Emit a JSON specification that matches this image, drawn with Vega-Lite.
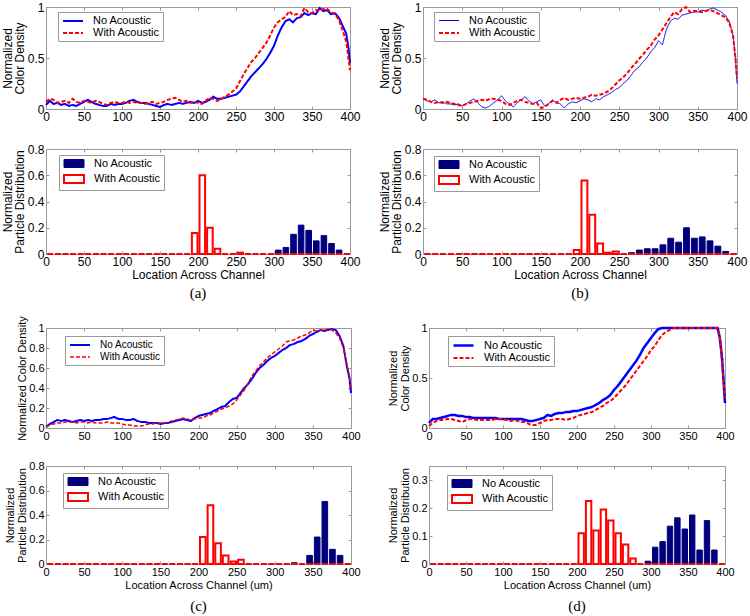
{
"$schema": "https://vega.github.io/schema/vega-lite/v6.json",
"padding": {"left": 0, "top": 0, "right": 2, "bottom": 0},
"spacing": 13,
"resolve": {"scale": {"stroke": "independent", "strokeDash": "independent", "fill": "independent", "strokeWidth": "independent"}, "legend": {"stroke": "independent", "strokeDash": "independent", "fill": "independent"}},
"datasets": {
"lines": [
{"p":"a","x":0,"No Acoustic":0.04,"With Acoustic":0.07},{"p":"a","x":5,"No Acoustic":0.08,"With Acoustic":0.10},{"p":"a","x":10,"No Acoustic":0.05,"With Acoustic":0.09},{"p":"a","x":15,"No Acoustic":0.06,"With Acoustic":0.06},{"p":"a","x":20,"No Acoustic":0.04,"With Acoustic":0.07},{"p":"a","x":25,"No Acoustic":0.05,"With Acoustic":0.08},{"p":"a","x":30,"No Acoustic":0.03,"With Acoustic":0.06},{"p":"a","x":35,"No Acoustic":0.04,"With Acoustic":0.10},{"p":"a","x":40,"No Acoustic":0.03,"With Acoustic":0.07},{"p":"a","x":45,"No Acoustic":0.05,"With Acoustic":0.06},{"p":"a","x":50,"No Acoustic":0.07,"With Acoustic":0.08},{"p":"a","x":55,"No Acoustic":0.09,"With Acoustic":0.07},{"p":"a","x":60,"No Acoustic":0.07,"With Acoustic":0.06},{"p":"a","x":65,"No Acoustic":0.05,"With Acoustic":0.08},{"p":"a","x":70,"No Acoustic":0.04,"With Acoustic":0.07},{"p":"a","x":75,"No Acoustic":0.03,"With Acoustic":0.05},{"p":"a","x":80,"No Acoustic":0.03,"With Acoustic":0.04},{"p":"a","x":85,"No Acoustic":0.05,"With Acoustic":0.06},{"p":"a","x":90,"No Acoustic":0.04,"With Acoustic":0.07},{"p":"a","x":95,"No Acoustic":0.05,"With Acoustic":0.06},{"p":"a","x":100,"No Acoustic":0.05,"With Acoustic":0.06},{"p":"a","x":105,"No Acoustic":0.06,"With Acoustic":0.07},{"p":"a","x":110,"No Acoustic":0.08,"With Acoustic":0.06},{"p":"a","x":115,"No Acoustic":0.09,"With Acoustic":0.07},{"p":"a","x":120,"No Acoustic":0.07,"With Acoustic":0.06},{"p":"a","x":125,"No Acoustic":0.06,"With Acoustic":0.06},{"p":"a","x":130,"No Acoustic":0.06,"With Acoustic":0.05},{"p":"a","x":135,"No Acoustic":0.05,"With Acoustic":0.06},{"p":"a","x":140,"No Acoustic":0.04,"With Acoustic":0.07},{"p":"a","x":145,"No Acoustic":0.03,"With Acoustic":0.05},{"p":"a","x":150,"No Acoustic":0.02,"With Acoustic":0.06},{"p":"a","x":155,"No Acoustic":0.04,"With Acoustic":0.07},{"p":"a","x":160,"No Acoustic":0.05,"With Acoustic":0.09},{"p":"a","x":165,"No Acoustic":0.04,"With Acoustic":0.10},{"p":"a","x":170,"No Acoustic":0.05,"With Acoustic":0.11},{"p":"a","x":175,"No Acoustic":0.06,"With Acoustic":0.09},{"p":"a","x":180,"No Acoustic":0.05,"With Acoustic":0.07},{"p":"a","x":185,"No Acoustic":0.06,"With Acoustic":0.08},{"p":"a","x":190,"No Acoustic":0.07,"With Acoustic":0.06},{"p":"a","x":195,"No Acoustic":0.06,"With Acoustic":0.07},{"p":"a","x":200,"No Acoustic":0.08,"With Acoustic":0.06},{"p":"a","x":205,"No Acoustic":0.06,"With Acoustic":0.05},{"p":"a","x":210,"No Acoustic":0.07,"With Acoustic":0.08},{"p":"a","x":215,"No Acoustic":0.09,"With Acoustic":0.11},{"p":"a","x":220,"No Acoustic":0.12,"With Acoustic":0.10},{"p":"a","x":225,"No Acoustic":0.10,"With Acoustic":0.08},{"p":"a","x":230,"No Acoustic":0.10,"With Acoustic":0.09},{"p":"a","x":235,"No Acoustic":0.11,"With Acoustic":0.12},{"p":"a","x":240,"No Acoustic":0.12,"With Acoustic":0.14},{"p":"a","x":245,"No Acoustic":0.13,"With Acoustic":0.17},{"p":"a","x":250,"No Acoustic":0.14,"With Acoustic":0.20},{"p":"a","x":255,"No Acoustic":0.17,"With Acoustic":0.27},{"p":"a","x":260,"No Acoustic":0.22,"With Acoustic":0.34},{"p":"a","x":265,"No Acoustic":0.27,"With Acoustic":0.40},{"p":"a","x":270,"No Acoustic":0.32,"With Acoustic":0.46},{"p":"a","x":275,"No Acoustic":0.36,"With Acoustic":0.50},{"p":"a","x":280,"No Acoustic":0.40,"With Acoustic":0.55},{"p":"a","x":285,"No Acoustic":0.44,"With Acoustic":0.60},{"p":"a","x":290,"No Acoustic":0.49,"With Acoustic":0.65},{"p":"a","x":295,"No Acoustic":0.55,"With Acoustic":0.72},{"p":"a","x":300,"No Acoustic":0.62,"With Acoustic":0.80},{"p":"a","x":305,"No Acoustic":0.72,"With Acoustic":0.85},{"p":"a","x":310,"No Acoustic":0.80,"With Acoustic":0.88},{"p":"a","x":315,"No Acoustic":0.86,"With Acoustic":0.90},{"p":"a","x":320,"No Acoustic":0.88,"With Acoustic":0.96},{"p":"a","x":325,"No Acoustic":0.85,"With Acoustic":0.92},{"p":"a","x":330,"No Acoustic":0.89,"With Acoustic":0.93},{"p":"a","x":335,"No Acoustic":0.90,"With Acoustic":0.91},{"p":"a","x":340,"No Acoustic":0.94,"With Acoustic":0.99},{"p":"a","x":345,"No Acoustic":0.92,"With Acoustic":0.95},{"p":"a","x":350,"No Acoustic":0.94,"With Acoustic":0.94},{"p":"a","x":355,"No Acoustic":0.93,"With Acoustic":0.97},{"p":"a","x":360,"No Acoustic":0.99,"With Acoustic":0.96},{"p":"a","x":365,"No Acoustic":0.96,"With Acoustic":0.98},{"p":"a","x":370,"No Acoustic":0.97,"With Acoustic":0.98},{"p":"a","x":375,"No Acoustic":0.93,"With Acoustic":0.95},{"p":"a","x":380,"No Acoustic":0.94,"With Acoustic":0.93},{"p":"a","x":385,"No Acoustic":0.90,"With Acoustic":0.88},{"p":"a","x":390,"No Acoustic":0.82,"With Acoustic":0.78},{"p":"a","x":395,"No Acoustic":0.74,"With Acoustic":0.66},{"p":"a","x":398,"No Acoustic":0.60,"With Acoustic":0.50},{"p":"a","x":400,"No Acoustic":0.45,"With Acoustic":0.38},
{"p":"b","x":0,"No Acoustic":0.10,"With Acoustic":0.10},{"p":"b","x":5,"No Acoustic":0.08,"With Acoustic":0.09},{"p":"b","x":10,"No Acoustic":0.07,"With Acoustic":0.07},{"p":"b","x":15,"No Acoustic":0.09,"With Acoustic":0.06},{"p":"b","x":20,"No Acoustic":0.06,"With Acoustic":0.07},{"p":"b","x":25,"No Acoustic":0.07,"With Acoustic":0.06},{"p":"b","x":30,"No Acoustic":0.05,"With Acoustic":0.07},{"p":"b","x":35,"No Acoustic":0.05,"With Acoustic":0.06},{"p":"b","x":40,"No Acoustic":0.04,"With Acoustic":0.05},{"p":"b","x":45,"No Acoustic":0.05,"With Acoustic":0.04},{"p":"b","x":50,"No Acoustic":0.03,"With Acoustic":0.03},{"p":"b","x":55,"No Acoustic":0.05,"With Acoustic":0.05},{"p":"b","x":60,"No Acoustic":0.08,"With Acoustic":0.06},{"p":"b","x":65,"No Acoustic":0.10,"With Acoustic":0.07},{"p":"b","x":70,"No Acoustic":0.06,"With Acoustic":0.08},{"p":"b","x":75,"No Acoustic":0.02,"With Acoustic":0.09},{"p":"b","x":80,"No Acoustic":0.01,"With Acoustic":0.08},{"p":"b","x":85,"No Acoustic":0.03,"With Acoustic":0.10},{"p":"b","x":90,"No Acoustic":0.06,"With Acoustic":0.10},{"p":"b","x":95,"No Acoustic":0.09,"With Acoustic":0.09},{"p":"b","x":100,"No Acoustic":0.13,"With Acoustic":0.08},{"p":"b","x":105,"No Acoustic":0.08,"With Acoustic":0.05},{"p":"b","x":110,"No Acoustic":0.05,"With Acoustic":0.04},{"p":"b","x":115,"No Acoustic":0.02,"With Acoustic":0.06},{"p":"b","x":120,"No Acoustic":0.06,"With Acoustic":0.08},{"p":"b","x":125,"No Acoustic":0.09,"With Acoustic":0.09},{"p":"b","x":130,"No Acoustic":0.12,"With Acoustic":0.07},{"p":"b","x":135,"No Acoustic":0.08,"With Acoustic":0.06},{"p":"b","x":140,"No Acoustic":0.05,"With Acoustic":0.05},{"p":"b","x":145,"No Acoustic":0.07,"With Acoustic":0.06},{"p":"b","x":150,"No Acoustic":0.09,"With Acoustic":0.01},{"p":"b","x":155,"No Acoustic":0.03,"With Acoustic":0.02},{"p":"b","x":160,"No Acoustic":0.05,"With Acoustic":0.05},{"p":"b","x":165,"No Acoustic":0.09,"With Acoustic":0.08},{"p":"b","x":170,"No Acoustic":0.06,"With Acoustic":0.06},{"p":"b","x":175,"No Acoustic":0.05,"With Acoustic":0.09},{"p":"b","x":180,"No Acoustic":0.01,"With Acoustic":0.11},{"p":"b","x":185,"No Acoustic":0.05,"With Acoustic":0.09},{"p":"b","x":190,"No Acoustic":0.07,"With Acoustic":0.10},{"p":"b","x":195,"No Acoustic":0.06,"With Acoustic":0.11},{"p":"b","x":200,"No Acoustic":0.08,"With Acoustic":0.10},{"p":"b","x":205,"No Acoustic":0.10,"With Acoustic":0.11},{"p":"b","x":210,"No Acoustic":0.09,"With Acoustic":0.12},{"p":"b","x":215,"No Acoustic":0.07,"With Acoustic":0.14},{"p":"b","x":220,"No Acoustic":0.10,"With Acoustic":0.13},{"p":"b","x":225,"No Acoustic":0.09,"With Acoustic":0.14},{"p":"b","x":230,"No Acoustic":0.12,"With Acoustic":0.15},{"p":"b","x":235,"No Acoustic":0.14,"With Acoustic":0.17},{"p":"b","x":240,"No Acoustic":0.16,"With Acoustic":0.20},{"p":"b","x":245,"No Acoustic":0.19,"With Acoustic":0.24},{"p":"b","x":250,"No Acoustic":0.21,"With Acoustic":0.28},{"p":"b","x":255,"No Acoustic":0.25,"With Acoustic":0.31},{"p":"b","x":260,"No Acoustic":0.28,"With Acoustic":0.35},{"p":"b","x":265,"No Acoustic":0.33,"With Acoustic":0.40},{"p":"b","x":270,"No Acoustic":0.38,"With Acoustic":0.44},{"p":"b","x":275,"No Acoustic":0.41,"With Acoustic":0.49},{"p":"b","x":280,"No Acoustic":0.46,"With Acoustic":0.53},{"p":"b","x":285,"No Acoustic":0.50,"With Acoustic":0.58},{"p":"b","x":290,"No Acoustic":0.56,"With Acoustic":0.62},{"p":"b","x":295,"No Acoustic":0.60,"With Acoustic":0.68},{"p":"b","x":300,"No Acoustic":0.67,"With Acoustic":0.72},{"p":"b","x":305,"No Acoustic":0.63,"With Acoustic":0.78},{"p":"b","x":310,"No Acoustic":0.78,"With Acoustic":0.84},{"p":"b","x":315,"No Acoustic":0.86,"With Acoustic":0.90},{"p":"b","x":320,"No Acoustic":0.89,"With Acoustic":0.95},{"p":"b","x":325,"No Acoustic":0.88,"With Acoustic":0.93},{"p":"b","x":330,"No Acoustic":0.92,"With Acoustic":0.98},{"p":"b","x":335,"No Acoustic":0.93,"With Acoustic":1.0},{"p":"b","x":340,"No Acoustic":0.94,"With Acoustic":0.95},{"p":"b","x":345,"No Acoustic":0.95,"With Acoustic":0.96},{"p":"b","x":350,"No Acoustic":0.95,"With Acoustic":0.96},{"p":"b","x":355,"No Acoustic":0.97,"With Acoustic":0.95},{"p":"b","x":360,"No Acoustic":0.96,"With Acoustic":0.96},{"p":"b","x":365,"No Acoustic":0.98,"With Acoustic":0.97},{"p":"b","x":370,"No Acoustic":0.99,"With Acoustic":0.96},{"p":"b","x":375,"No Acoustic":0.97,"With Acoustic":0.94},{"p":"b","x":380,"No Acoustic":0.95,"With Acoustic":0.92},{"p":"b","x":385,"No Acoustic":0.92,"With Acoustic":0.90},{"p":"b","x":390,"No Acoustic":0.86,"With Acoustic":0.85},{"p":"b","x":395,"No Acoustic":0.72,"With Acoustic":0.72},{"p":"b","x":398,"No Acoustic":0.50,"With Acoustic":0.50},{"p":"b","x":400,"No Acoustic":0.25,"With Acoustic":0.30},
{"p":"c","x":0,"No Acoustic":0.01,"With Acoustic":0.01},{"p":"c","x":5,"No Acoustic":0.04,"With Acoustic":0.03},{"p":"c","x":10,"No Acoustic":0.06,"With Acoustic":0.04},{"p":"c","x":15,"No Acoustic":0.08,"With Acoustic":0.05},{"p":"c","x":20,"No Acoustic":0.07,"With Acoustic":0.05},{"p":"c","x":25,"No Acoustic":0.08,"With Acoustic":0.06},{"p":"c","x":30,"No Acoustic":0.07,"With Acoustic":0.06},{"p":"c","x":35,"No Acoustic":0.06,"With Acoustic":0.06},{"p":"c","x":40,"No Acoustic":0.07,"With Acoustic":0.05},{"p":"c","x":45,"No Acoustic":0.08,"With Acoustic":0.06},{"p":"c","x":50,"No Acoustic":0.07,"With Acoustic":0.06},{"p":"c","x":55,"No Acoustic":0.08,"With Acoustic":0.05},{"p":"c","x":60,"No Acoustic":0.07,"With Acoustic":0.06},{"p":"c","x":65,"No Acoustic":0.08,"With Acoustic":0.05},{"p":"c","x":70,"No Acoustic":0.08,"With Acoustic":0.05},{"p":"c","x":75,"No Acoustic":0.09,"With Acoustic":0.05},{"p":"c","x":80,"No Acoustic":0.09,"With Acoustic":0.06},{"p":"c","x":85,"No Acoustic":0.10,"With Acoustic":0.05},{"p":"c","x":90,"No Acoustic":0.11,"With Acoustic":0.05},{"p":"c","x":95,"No Acoustic":0.09,"With Acoustic":0.05},{"p":"c","x":100,"No Acoustic":0.09,"With Acoustic":0.04},{"p":"c","x":105,"No Acoustic":0.08,"With Acoustic":0.03},{"p":"c","x":110,"No Acoustic":0.08,"With Acoustic":0.03},{"p":"c","x":115,"No Acoustic":0.09,"With Acoustic":0.02},{"p":"c","x":120,"No Acoustic":0.07,"With Acoustic":0.02},{"p":"c","x":125,"No Acoustic":0.06,"With Acoustic":0.02},{"p":"c","x":130,"No Acoustic":0.06,"With Acoustic":0.03},{"p":"c","x":135,"No Acoustic":0.05,"With Acoustic":0.04},{"p":"c","x":140,"No Acoustic":0.05,"With Acoustic":0.04},{"p":"c","x":145,"No Acoustic":0.05,"With Acoustic":0.05},{"p":"c","x":150,"No Acoustic":0.04,"With Acoustic":0.05},{"p":"c","x":155,"No Acoustic":0.05,"With Acoustic":0.05},{"p":"c","x":160,"No Acoustic":0.05,"With Acoustic":0.06},{"p":"c","x":165,"No Acoustic":0.06,"With Acoustic":0.07},{"p":"c","x":170,"No Acoustic":0.07,"With Acoustic":0.08},{"p":"c","x":175,"No Acoustic":0.08,"With Acoustic":0.09},{"p":"c","x":180,"No Acoustic":0.09,"With Acoustic":0.10},{"p":"c","x":185,"No Acoustic":0.08,"With Acoustic":0.09},{"p":"c","x":190,"No Acoustic":0.07,"With Acoustic":0.08},{"p":"c","x":195,"No Acoustic":0.10,"With Acoustic":0.09},{"p":"c","x":200,"No Acoustic":0.12,"With Acoustic":0.10},{"p":"c","x":205,"No Acoustic":0.13,"With Acoustic":0.10},{"p":"c","x":210,"No Acoustic":0.14,"With Acoustic":0.12},{"p":"c","x":215,"No Acoustic":0.15,"With Acoustic":0.13},{"p":"c","x":220,"No Acoustic":0.17,"With Acoustic":0.15},{"p":"c","x":225,"No Acoustic":0.19,"With Acoustic":0.17},{"p":"c","x":230,"No Acoustic":0.21,"With Acoustic":0.19},{"p":"c","x":235,"No Acoustic":0.22,"With Acoustic":0.20},{"p":"c","x":240,"No Acoustic":0.26,"With Acoustic":0.22},{"p":"c","x":245,"No Acoustic":0.29,"With Acoustic":0.24},{"p":"c","x":250,"No Acoustic":0.30,"With Acoustic":0.28},{"p":"c","x":255,"No Acoustic":0.35,"With Acoustic":0.33},{"p":"c","x":260,"No Acoustic":0.40,"With Acoustic":0.38},{"p":"c","x":265,"No Acoustic":0.44,"With Acoustic":0.45},{"p":"c","x":270,"No Acoustic":0.49,"With Acoustic":0.52},{"p":"c","x":275,"No Acoustic":0.55,"With Acoustic":0.57},{"p":"c","x":280,"No Acoustic":0.60,"With Acoustic":0.62},{"p":"c","x":285,"No Acoustic":0.63,"With Acoustic":0.66},{"p":"c","x":290,"No Acoustic":0.67,"With Acoustic":0.70},{"p":"c","x":295,"No Acoustic":0.70,"With Acoustic":0.73},{"p":"c","x":300,"No Acoustic":0.72,"With Acoustic":0.76},{"p":"c","x":305,"No Acoustic":0.75,"With Acoustic":0.79},{"p":"c","x":310,"No Acoustic":0.78,"With Acoustic":0.82},{"p":"c","x":315,"No Acoustic":0.80,"With Acoustic":0.86},{"p":"c","x":320,"No Acoustic":0.83,"With Acoustic":0.87},{"p":"c","x":325,"No Acoustic":0.84,"With Acoustic":0.88},{"p":"c","x":330,"No Acoustic":0.86,"With Acoustic":0.90},{"p":"c","x":335,"No Acoustic":0.87,"With Acoustic":0.92},{"p":"c","x":340,"No Acoustic":0.89,"With Acoustic":0.93},{"p":"c","x":345,"No Acoustic":0.92,"With Acoustic":0.95},{"p":"c","x":350,"No Acoustic":0.94,"With Acoustic":0.98},{"p":"c","x":355,"No Acoustic":0.96,"With Acoustic":0.97},{"p":"c","x":360,"No Acoustic":0.98,"With Acoustic":0.98},{"p":"c","x":365,"No Acoustic":0.97,"With Acoustic":0.98},{"p":"c","x":370,"No Acoustic":0.98,"With Acoustic":0.99},{"p":"c","x":375,"No Acoustic":0.99,"With Acoustic":0.98},{"p":"c","x":380,"No Acoustic":0.98,"With Acoustic":0.95},{"p":"c","x":385,"No Acoustic":0.92,"With Acoustic":0.90},{"p":"c","x":390,"No Acoustic":0.82,"With Acoustic":0.80},{"p":"c","x":395,"No Acoustic":0.60,"With Acoustic":0.62},{"p":"c","x":398,"No Acoustic":0.50,"With Acoustic":0.52},{"p":"c","x":400,"No Acoustic":0.35,"With Acoustic":0.40},
{"p":"d","x":0,"No Acoustic":0.05,"With Acoustic":0.02},{"p":"d","x":5,"No Acoustic":0.09,"With Acoustic":0.05},{"p":"d","x":10,"No Acoustic":0.09,"With Acoustic":0.07},{"p":"d","x":15,"No Acoustic":0.10,"With Acoustic":0.08},{"p":"d","x":20,"No Acoustic":0.11,"With Acoustic":0.08},{"p":"d","x":25,"No Acoustic":0.12,"With Acoustic":0.09},{"p":"d","x":30,"No Acoustic":0.13,"With Acoustic":0.09},{"p":"d","x":35,"No Acoustic":0.13,"With Acoustic":0.08},{"p":"d","x":40,"No Acoustic":0.12,"With Acoustic":0.07},{"p":"d","x":45,"No Acoustic":0.12,"With Acoustic":0.06},{"p":"d","x":50,"No Acoustic":0.11,"With Acoustic":0.08},{"p":"d","x":55,"No Acoustic":0.11,"With Acoustic":0.09},{"p":"d","x":60,"No Acoustic":0.10,"With Acoustic":0.09},{"p":"d","x":65,"No Acoustic":0.10,"With Acoustic":0.08},{"p":"d","x":70,"No Acoustic":0.10,"With Acoustic":0.08},{"p":"d","x":75,"No Acoustic":0.10,"With Acoustic":0.08},{"p":"d","x":80,"No Acoustic":0.10,"With Acoustic":0.08},{"p":"d","x":85,"No Acoustic":0.10,"With Acoustic":0.08},{"p":"d","x":90,"No Acoustic":0.10,"With Acoustic":0.09},{"p":"d","x":95,"No Acoustic":0.09,"With Acoustic":0.09},{"p":"d","x":100,"No Acoustic":0.09,"With Acoustic":0.09},{"p":"d","x":105,"No Acoustic":0.09,"With Acoustic":0.08},{"p":"d","x":110,"No Acoustic":0.09,"With Acoustic":0.07},{"p":"d","x":115,"No Acoustic":0.09,"With Acoustic":0.08},{"p":"d","x":120,"No Acoustic":0.09,"With Acoustic":0.07},{"p":"d","x":125,"No Acoustic":0.09,"With Acoustic":0.06},{"p":"d","x":130,"No Acoustic":0.08,"With Acoustic":0.06},{"p":"d","x":135,"No Acoustic":0.07,"With Acoustic":0.04},{"p":"d","x":140,"No Acoustic":0.07,"With Acoustic":0.03},{"p":"d","x":145,"No Acoustic":0.08,"With Acoustic":0.03},{"p":"d","x":150,"No Acoustic":0.09,"With Acoustic":0.05},{"p":"d","x":155,"No Acoustic":0.10,"With Acoustic":0.07},{"p":"d","x":160,"No Acoustic":0.13,"With Acoustic":0.08},{"p":"d","x":165,"No Acoustic":0.12,"With Acoustic":0.08},{"p":"d","x":170,"No Acoustic":0.14,"With Acoustic":0.09},{"p":"d","x":175,"No Acoustic":0.15,"With Acoustic":0.09},{"p":"d","x":180,"No Acoustic":0.15,"With Acoustic":0.09},{"p":"d","x":185,"No Acoustic":0.16,"With Acoustic":0.08},{"p":"d","x":190,"No Acoustic":0.16,"With Acoustic":0.09},{"p":"d","x":195,"No Acoustic":0.17,"With Acoustic":0.10},{"p":"d","x":200,"No Acoustic":0.17,"With Acoustic":0.12},{"p":"d","x":205,"No Acoustic":0.18,"With Acoustic":0.13},{"p":"d","x":210,"No Acoustic":0.19,"With Acoustic":0.14},{"p":"d","x":215,"No Acoustic":0.20,"With Acoustic":0.15},{"p":"d","x":220,"No Acoustic":0.21,"With Acoustic":0.16},{"p":"d","x":225,"No Acoustic":0.23,"With Acoustic":0.18},{"p":"d","x":230,"No Acoustic":0.25,"With Acoustic":0.20},{"p":"d","x":235,"No Acoustic":0.28,"With Acoustic":0.22},{"p":"d","x":240,"No Acoustic":0.30,"With Acoustic":0.25},{"p":"d","x":245,"No Acoustic":0.33,"With Acoustic":0.27},{"p":"d","x":250,"No Acoustic":0.38,"With Acoustic":0.30},{"p":"d","x":255,"No Acoustic":0.42,"With Acoustic":0.34},{"p":"d","x":260,"No Acoustic":0.47,"With Acoustic":0.38},{"p":"d","x":265,"No Acoustic":0.52,"With Acoustic":0.42},{"p":"d","x":270,"No Acoustic":0.57,"With Acoustic":0.47},{"p":"d","x":275,"No Acoustic":0.62,"With Acoustic":0.52},{"p":"d","x":280,"No Acoustic":0.67,"With Acoustic":0.57},{"p":"d","x":285,"No Acoustic":0.73,"With Acoustic":0.62},{"p":"d","x":290,"No Acoustic":0.80,"With Acoustic":0.67},{"p":"d","x":295,"No Acoustic":0.85,"With Acoustic":0.72},{"p":"d","x":300,"No Acoustic":0.90,"With Acoustic":0.78},{"p":"d","x":305,"No Acoustic":0.95,"With Acoustic":0.82},{"p":"d","x":310,"No Acoustic":0.99,"With Acoustic":0.88},{"p":"d","x":315,"No Acoustic":1.0,"With Acoustic":0.93},{"p":"d","x":320,"No Acoustic":1.0,"With Acoustic":0.96},{"p":"d","x":325,"No Acoustic":1.0,"With Acoustic":0.98},{"p":"d","x":330,"No Acoustic":1.0,"With Acoustic":1.0},{"p":"d","x":335,"No Acoustic":1.0,"With Acoustic":1.0},{"p":"d","x":340,"No Acoustic":1.0,"With Acoustic":1.0},{"p":"d","x":345,"No Acoustic":1.0,"With Acoustic":1.0},{"p":"d","x":350,"No Acoustic":1.0,"With Acoustic":1.0},{"p":"d","x":355,"No Acoustic":1.0,"With Acoustic":1.0},{"p":"d","x":360,"No Acoustic":1.0,"With Acoustic":1.0},{"p":"d","x":365,"No Acoustic":1.0,"With Acoustic":1.0},{"p":"d","x":370,"No Acoustic":1.0,"With Acoustic":1.0},{"p":"d","x":375,"No Acoustic":1.0,"With Acoustic":1.0},{"p":"d","x":380,"No Acoustic":1.0,"With Acoustic":1.0},{"p":"d","x":385,"No Acoustic":1.0,"With Acoustic":1.0},{"p":"d","x":390,"No Acoustic":1.0,"With Acoustic":1.0},{"p":"d","x":393,"No Acoustic":0.90,"With Acoustic":0.92},{"p":"d","x":396,"No Acoustic":0.70,"With Acoustic":0.65},{"p":"d","x":400,"No Acoustic":0.25,"With Acoustic":0.30}
],
"bars": [
{"p":"a","lo":0,"hi":10,"No Acoustic":0,"With Acoustic":0},{"p":"a","lo":10,"hi":20,"No Acoustic":0,"With Acoustic":0},{"p":"a","lo":20,"hi":30,"No Acoustic":0,"With Acoustic":0},{"p":"a","lo":30,"hi":40,"No Acoustic":0,"With Acoustic":0},{"p":"a","lo":40,"hi":50,"No Acoustic":0,"With Acoustic":0},{"p":"a","lo":50,"hi":60,"No Acoustic":0,"With Acoustic":0},{"p":"a","lo":60,"hi":70,"No Acoustic":0,"With Acoustic":0},{"p":"a","lo":70,"hi":80,"No Acoustic":0,"With Acoustic":0},{"p":"a","lo":80,"hi":90,"No Acoustic":0,"With Acoustic":0},{"p":"a","lo":90,"hi":100,"No Acoustic":0,"With Acoustic":0},{"p":"a","lo":100,"hi":110,"No Acoustic":0,"With Acoustic":0},{"p":"a","lo":110,"hi":120,"No Acoustic":0,"With Acoustic":0},{"p":"a","lo":120,"hi":130,"No Acoustic":0,"With Acoustic":0},{"p":"a","lo":130,"hi":140,"No Acoustic":0,"With Acoustic":0},{"p":"a","lo":140,"hi":150,"No Acoustic":0,"With Acoustic":0},{"p":"a","lo":150,"hi":160,"No Acoustic":0,"With Acoustic":0},{"p":"a","lo":160,"hi":170,"No Acoustic":0,"With Acoustic":0},{"p":"a","lo":170,"hi":180,"No Acoustic":0,"With Acoustic":0},{"p":"a","lo":180,"hi":190,"No Acoustic":0,"With Acoustic":0},{"p":"a","lo":190,"hi":200,"No Acoustic":0,"With Acoustic":0.16},{"p":"a","lo":200,"hi":210,"No Acoustic":0,"With Acoustic":0.6},{"p":"a","lo":210,"hi":220,"No Acoustic":0,"With Acoustic":0.2},{"p":"a","lo":220,"hi":230,"No Acoustic":0,"With Acoustic":0.04},{"p":"a","lo":230,"hi":240,"No Acoustic":0,"With Acoustic":0},{"p":"a","lo":240,"hi":250,"No Acoustic":0,"With Acoustic":0},{"p":"a","lo":250,"hi":260,"No Acoustic":0,"With Acoustic":0.01},{"p":"a","lo":260,"hi":270,"No Acoustic":0,"With Acoustic":0},{"p":"a","lo":270,"hi":280,"No Acoustic":0,"With Acoustic":0},{"p":"a","lo":280,"hi":290,"No Acoustic":0,"With Acoustic":0},{"p":"a","lo":290,"hi":300,"No Acoustic":0,"With Acoustic":0},{"p":"a","lo":300,"hi":310,"No Acoustic":0.03,"With Acoustic":0},{"p":"a","lo":310,"hi":320,"No Acoustic":0.05,"With Acoustic":0},{"p":"a","lo":320,"hi":330,"No Acoustic":0.15,"With Acoustic":0},{"p":"a","lo":330,"hi":340,"No Acoustic":0.22,"With Acoustic":0},{"p":"a","lo":340,"hi":350,"No Acoustic":0.18,"With Acoustic":0},{"p":"a","lo":350,"hi":360,"No Acoustic":0.10,"With Acoustic":0},{"p":"a","lo":360,"hi":370,"No Acoustic":0.14,"With Acoustic":0},{"p":"a","lo":370,"hi":380,"No Acoustic":0.08,"With Acoustic":0},{"p":"a","lo":380,"hi":390,"No Acoustic":0.03,"With Acoustic":0},{"p":"a","lo":390,"hi":400,"No Acoustic":0,"With Acoustic":0},
{"p":"b","lo":0,"hi":10,"No Acoustic":0,"With Acoustic":0},{"p":"b","lo":10,"hi":20,"No Acoustic":0,"With Acoustic":0},{"p":"b","lo":20,"hi":30,"No Acoustic":0,"With Acoustic":0},{"p":"b","lo":30,"hi":40,"No Acoustic":0,"With Acoustic":0},{"p":"b","lo":40,"hi":50,"No Acoustic":0,"With Acoustic":0},{"p":"b","lo":50,"hi":60,"No Acoustic":0,"With Acoustic":0},{"p":"b","lo":60,"hi":70,"No Acoustic":0,"With Acoustic":0},{"p":"b","lo":70,"hi":80,"No Acoustic":0,"With Acoustic":0},{"p":"b","lo":80,"hi":90,"No Acoustic":0,"With Acoustic":0},{"p":"b","lo":90,"hi":100,"No Acoustic":0,"With Acoustic":0},{"p":"b","lo":100,"hi":110,"No Acoustic":0,"With Acoustic":0},{"p":"b","lo":110,"hi":120,"No Acoustic":0,"With Acoustic":0},{"p":"b","lo":120,"hi":130,"No Acoustic":0,"With Acoustic":0},{"p":"b","lo":130,"hi":140,"No Acoustic":0,"With Acoustic":0},{"p":"b","lo":140,"hi":150,"No Acoustic":0,"With Acoustic":0},{"p":"b","lo":150,"hi":160,"No Acoustic":0,"With Acoustic":0},{"p":"b","lo":160,"hi":170,"No Acoustic":0,"With Acoustic":0},{"p":"b","lo":170,"hi":180,"No Acoustic":0,"With Acoustic":0},{"p":"b","lo":180,"hi":190,"No Acoustic":0,"With Acoustic":0},{"p":"b","lo":190,"hi":200,"No Acoustic":0,"With Acoustic":0.03},{"p":"b","lo":200,"hi":210,"No Acoustic":0,"With Acoustic":0.56},{"p":"b","lo":210,"hi":220,"No Acoustic":0,"With Acoustic":0.3},{"p":"b","lo":220,"hi":230,"No Acoustic":0,"With Acoustic":0.08},{"p":"b","lo":230,"hi":240,"No Acoustic":0,"With Acoustic":0.01},{"p":"b","lo":240,"hi":250,"No Acoustic":0,"With Acoustic":0.02},{"p":"b","lo":250,"hi":260,"No Acoustic":0,"With Acoustic":0},{"p":"b","lo":260,"hi":270,"No Acoustic":0.01,"With Acoustic":0},{"p":"b","lo":270,"hi":280,"No Acoustic":0.03,"With Acoustic":0},{"p":"b","lo":280,"hi":290,"No Acoustic":0.04,"With Acoustic":0},{"p":"b","lo":290,"hi":300,"No Acoustic":0.04,"With Acoustic":0},{"p":"b","lo":300,"hi":310,"No Acoustic":0.07,"With Acoustic":0},{"p":"b","lo":310,"hi":320,"No Acoustic":0.12,"With Acoustic":0},{"p":"b","lo":320,"hi":330,"No Acoustic":0.09,"With Acoustic":0},{"p":"b","lo":330,"hi":340,"No Acoustic":0.2,"With Acoustic":0},{"p":"b","lo":340,"hi":350,"No Acoustic":0.12,"With Acoustic":0},{"p":"b","lo":350,"hi":360,"No Acoustic":0.13,"With Acoustic":0},{"p":"b","lo":360,"hi":370,"No Acoustic":0.1,"With Acoustic":0},{"p":"b","lo":370,"hi":380,"No Acoustic":0.06,"With Acoustic":0},{"p":"b","lo":380,"hi":390,"No Acoustic":0.02,"With Acoustic":0},{"p":"b","lo":390,"hi":400,"No Acoustic":0,"With Acoustic":0},
{"p":"c","lo":0,"hi":10,"No Acoustic":0,"With Acoustic":0},{"p":"c","lo":10,"hi":20,"No Acoustic":0,"With Acoustic":0},{"p":"c","lo":20,"hi":30,"No Acoustic":0,"With Acoustic":0},{"p":"c","lo":30,"hi":40,"No Acoustic":0,"With Acoustic":0},{"p":"c","lo":40,"hi":50,"No Acoustic":0,"With Acoustic":0},{"p":"c","lo":50,"hi":60,"No Acoustic":0,"With Acoustic":0},{"p":"c","lo":60,"hi":70,"No Acoustic":0,"With Acoustic":0},{"p":"c","lo":70,"hi":80,"No Acoustic":0,"With Acoustic":0},{"p":"c","lo":80,"hi":90,"No Acoustic":0,"With Acoustic":0},{"p":"c","lo":90,"hi":100,"No Acoustic":0,"With Acoustic":0},{"p":"c","lo":100,"hi":110,"No Acoustic":0,"With Acoustic":0},{"p":"c","lo":110,"hi":120,"No Acoustic":0,"With Acoustic":0},{"p":"c","lo":120,"hi":130,"No Acoustic":0,"With Acoustic":0},{"p":"c","lo":130,"hi":140,"No Acoustic":0,"With Acoustic":0},{"p":"c","lo":140,"hi":150,"No Acoustic":0,"With Acoustic":0},{"p":"c","lo":150,"hi":160,"No Acoustic":0,"With Acoustic":0},{"p":"c","lo":160,"hi":170,"No Acoustic":0,"With Acoustic":0},{"p":"c","lo":170,"hi":180,"No Acoustic":0,"With Acoustic":0},{"p":"c","lo":180,"hi":190,"No Acoustic":0,"With Acoustic":0},{"p":"c","lo":190,"hi":200,"No Acoustic":0,"With Acoustic":0},{"p":"c","lo":200,"hi":210,"No Acoustic":0,"With Acoustic":0.22},{"p":"c","lo":210,"hi":220,"No Acoustic":0,"With Acoustic":0.48},{"p":"c","lo":220,"hi":230,"No Acoustic":0,"With Acoustic":0.17},{"p":"c","lo":230,"hi":240,"No Acoustic":0,"With Acoustic":0.07},{"p":"c","lo":240,"hi":250,"No Acoustic":0,"With Acoustic":0.02},{"p":"c","lo":250,"hi":260,"No Acoustic":0,"With Acoustic":0.035},{"p":"c","lo":260,"hi":270,"No Acoustic":0,"With Acoustic":0},{"p":"c","lo":270,"hi":280,"No Acoustic":0,"With Acoustic":0},{"p":"c","lo":280,"hi":290,"No Acoustic":0,"With Acoustic":0},{"p":"c","lo":290,"hi":300,"No Acoustic":0,"With Acoustic":0},{"p":"c","lo":300,"hi":310,"No Acoustic":0,"With Acoustic":0},{"p":"c","lo":310,"hi":320,"No Acoustic":0,"With Acoustic":0},{"p":"c","lo":320,"hi":330,"No Acoustic":0.01,"With Acoustic":0},{"p":"c","lo":330,"hi":340,"No Acoustic":0,"With Acoustic":0},{"p":"c","lo":340,"hi":350,"No Acoustic":0.07,"With Acoustic":0},{"p":"c","lo":350,"hi":360,"No Acoustic":0.22,"With Acoustic":0},{"p":"c","lo":360,"hi":370,"No Acoustic":0.51,"With Acoustic":0},{"p":"c","lo":370,"hi":380,"No Acoustic":0.12,"With Acoustic":0},{"p":"c","lo":380,"hi":390,"No Acoustic":0.07,"With Acoustic":0},{"p":"c","lo":390,"hi":400,"No Acoustic":0,"With Acoustic":0},
{"p":"d","lo":0,"hi":10,"No Acoustic":0,"With Acoustic":0},{"p":"d","lo":10,"hi":20,"No Acoustic":0,"With Acoustic":0},{"p":"d","lo":20,"hi":30,"No Acoustic":0,"With Acoustic":0},{"p":"d","lo":30,"hi":40,"No Acoustic":0,"With Acoustic":0},{"p":"d","lo":40,"hi":50,"No Acoustic":0,"With Acoustic":0},{"p":"d","lo":50,"hi":60,"No Acoustic":0,"With Acoustic":0},{"p":"d","lo":60,"hi":70,"No Acoustic":0,"With Acoustic":0},{"p":"d","lo":70,"hi":80,"No Acoustic":0,"With Acoustic":0},{"p":"d","lo":80,"hi":90,"No Acoustic":0,"With Acoustic":0},{"p":"d","lo":90,"hi":100,"No Acoustic":0,"With Acoustic":0},{"p":"d","lo":100,"hi":110,"No Acoustic":0,"With Acoustic":0},{"p":"d","lo":110,"hi":120,"No Acoustic":0,"With Acoustic":0},{"p":"d","lo":120,"hi":130,"No Acoustic":0,"With Acoustic":0},{"p":"d","lo":130,"hi":140,"No Acoustic":0,"With Acoustic":0},{"p":"d","lo":140,"hi":150,"No Acoustic":0,"With Acoustic":0},{"p":"d","lo":150,"hi":160,"No Acoustic":0,"With Acoustic":0},{"p":"d","lo":160,"hi":170,"No Acoustic":0,"With Acoustic":0},{"p":"d","lo":170,"hi":180,"No Acoustic":0,"With Acoustic":0},{"p":"d","lo":180,"hi":190,"No Acoustic":0,"With Acoustic":0},{"p":"d","lo":190,"hi":200,"No Acoustic":0,"With Acoustic":0},{"p":"d","lo":200,"hi":210,"No Acoustic":0,"With Acoustic":0.11},{"p":"d","lo":210,"hi":220,"No Acoustic":0,"With Acoustic":0.225},{"p":"d","lo":220,"hi":230,"No Acoustic":0,"With Acoustic":0.12},{"p":"d","lo":230,"hi":240,"No Acoustic":0,"With Acoustic":0.195},{"p":"d","lo":240,"hi":250,"No Acoustic":0,"With Acoustic":0.155},{"p":"d","lo":250,"hi":260,"No Acoustic":0,"With Acoustic":0.11},{"p":"d","lo":260,"hi":270,"No Acoustic":0,"With Acoustic":0.07},{"p":"d","lo":270,"hi":280,"No Acoustic":0,"With Acoustic":0.02},{"p":"d","lo":280,"hi":290,"No Acoustic":0,"With Acoustic":0},{"p":"d","lo":290,"hi":300,"No Acoustic":0.01,"With Acoustic":0},{"p":"d","lo":300,"hi":310,"No Acoustic":0.06,"With Acoustic":0},{"p":"d","lo":310,"hi":320,"No Acoustic":0.08,"With Acoustic":0},{"p":"d","lo":320,"hi":330,"No Acoustic":0.135,"With Acoustic":0},{"p":"d","lo":330,"hi":340,"No Acoustic":0.165,"With Acoustic":0},{"p":"d","lo":340,"hi":350,"No Acoustic":0.125,"With Acoustic":0},{"p":"d","lo":350,"hi":360,"No Acoustic":0.175,"With Acoustic":0},{"p":"d","lo":360,"hi":370,"No Acoustic":0.05,"With Acoustic":0},{"p":"d","lo":370,"hi":380,"No Acoustic":0.155,"With Acoustic":0},{"p":"d","lo":380,"hi":390,"No Acoustic":0.05,"With Acoustic":0},{"p":"d","lo":390,"hi":400,"No Acoustic":0,"With Acoustic":0}
]
},
"vconcat": [
{"hconcat": [
 {"vconcat": [
  {"width": 304, "height": 102, "data": {"name": "lines"},
   "transform": [{"filter": "datum.p == 'a'"}, {"fold": ["No Acoustic", "With Acoustic"], "as": ["series", "v"]}],
   "layer": [
    {"mark": {"type": "line"},
     "encoding": {
      "x": {"field": "x", "type": "quantitative", "scale": {"domain": [0, 400], "nice": false}, "axis": {"values": [0,50,100,150,200,250,300,350,400], "format": "d", "title": null}},
      "y": {"field": "v", "type": "quantitative", "scale": {"domain": [0, 1], "nice": false}, "axis": {"values": [0, 0.5, 1], "format": "~g", "title": ["Normalized", "Color Density"]}},
      "stroke": {"field": "series", "type": "nominal", "scale": {"domain": ["No Acoustic", "With Acoustic"], "range": ["#0000ff", "#ff0000"]}, "legend": {"title": null, "orient": "none", "legendX": 12, "legendY": 5, "symbolType": "M-2,0H2", "symbolSize": 100}},
      "strokeDash": {"field": "series", "type": "nominal", "scale": {"domain": ["No Acoustic", "With Acoustic"], "range": [[1, 0], [4, 2]]}, "legend": {"title": null, "orient": "none", "legendX": 12, "legendY": 5, "symbolType": "M-2,0H2", "symbolSize": 100}},
      "strokeWidth": {"field": "series", "type": "ordinal", "scale": {"domain": ["No Acoustic", "With Acoustic"], "range": [2, 2]}, "legend": null}
     }},
    {"mark": {"type": "line", "strokeOpacity": 0},
     "encoding": {
      "x": {"field": "x", "type": "quantitative", "axis": {"orient": "top", "labels": false, "title": null, "values": [0,50,100,150,200,250,300,350,400]}},
      "y": {"field": "v", "type": "quantitative", "axis": {"orient": "right", "labels": false, "title": null, "values": [0, 0.5, 1]}}
     }}
   ],
   "resolve": {"axis": {"x": "independent", "y": "independent"}}
  },
  {"width": 304, "height": 105, "data": {"name": "bars"},
   "title": {"text": "(a)", "orient": "bottom"},
   "transform": [{"filter": "datum.p == 'a'"}, {"fold": ["No Acoustic", "With Acoustic"], "as": ["series", "v"]}],
   "layer": [
    {"mark": {"type": "bar", "binSpacing": 2},
     "encoding": {
      "x": {"field": "lo", "type": "quantitative", "bin": {"binned": true}, "scale": {"domain": [0, 400], "nice": false}, "axis": {"values": [0,50,100,150,200,250,300,350,400], "format": "d", "title": "Location Across Channel"}},
      "x2": {"field": "hi"},
      "y": {"field": "v", "type": "quantitative", "stack": null, "scale": {"domain": [0, 0.8], "nice": false}, "axis": {"values": [0, 0.2, 0.4, 0.6, 0.8], "format": "~g", "title": ["Normalized", "Particle Distribution"]}},
      "fill": {"field": "series", "type": "nominal", "scale": {"domain": ["No Acoustic", "With Acoustic"], "range": ["#00007f", "#ffffff"]}, "legend": {"title": null, "orient": "none", "legendX": 13, "legendY": 6, "symbolType": "M-2,-0.8H2V0.8H-2Z", "symbolSize": 100}},
      "stroke": {"field": "series", "type": "nominal", "scale": {"domain": ["No Acoustic", "With Acoustic"], "range": ["#00007f", "#ff0000"]}, "legend": {"title": null, "orient": "none", "legendX": 13, "legendY": 6, "symbolType": "M-2,-0.8H2V0.8H-2Z", "symbolSize": 100}},
      "strokeWidth": {"field": "series", "type": "ordinal", "scale": {"domain": ["No Acoustic", "With Acoustic"], "range": [1, 2]}, "legend": null}
     }},
    {"mark": {"type": "point", "opacity": 0},
     "encoding": {
      "x": {"field": "lo", "type": "quantitative", "axis": {"orient": "top", "labels": false, "title": null, "values": [0,50,100,150,200,250,300,350,400]}},
      "y": {"field": "v", "type": "quantitative", "axis": {"orient": "right", "labels": false, "title": null, "values": [0, 0.2, 0.4, 0.6, 0.8]}}
     }}
   ],
   "resolve": {"axis": {"x": "independent", "y": "independent"}}
  }
 ], "spacing": 40, "bounds": "flush",
 "resolve": {"scale": {"stroke": "independent", "strokeDash": "independent", "fill": "independent", "strokeWidth": "independent"}, "legend": {"stroke": "independent", "strokeDash": "independent", "fill": "independent"}}},
 {"vconcat": [
  {"width": 314, "height": 102, "data": {"name": "lines"},
   "transform": [{"filter": "datum.p == 'b'"}, {"fold": ["No Acoustic", "With Acoustic"], "as": ["series", "v"]}],
   "layer": [
    {"mark": {"type": "line"},
     "encoding": {
      "x": {"field": "x", "type": "quantitative", "scale": {"domain": [0, 400], "nice": false}, "axis": {"values": [0,50,100,150,200,250,300,350,400], "format": "d", "title": null}},
      "y": {"field": "v", "type": "quantitative", "scale": {"domain": [0, 1], "nice": false}, "axis": {"values": [0, 0.5, 1], "format": "~g", "title": ["Normalized", "Color Density"]}},
      "stroke": {"field": "series", "type": "nominal", "scale": {"domain": ["No Acoustic", "With Acoustic"], "range": ["#0000ff", "#ff0000"]}, "legend": {"title": null, "orient": "none", "legendX": 11, "legendY": 5, "symbolType": "M-2,0H2", "symbolSize": 100}},
      "strokeDash": {"field": "series", "type": "nominal", "scale": {"domain": ["No Acoustic", "With Acoustic"], "range": [[1, 0], [4, 2]]}, "legend": {"title": null, "orient": "none", "legendX": 11, "legendY": 5, "symbolType": "M-2,0H2", "symbolSize": 100}},
      "strokeWidth": {"field": "series", "type": "ordinal", "scale": {"domain": ["No Acoustic", "With Acoustic"], "range": [1, 2]}, "legend": null}
     }},
    {"mark": {"type": "line", "strokeOpacity": 0},
     "encoding": {
      "x": {"field": "x", "type": "quantitative", "axis": {"orient": "top", "labels": false, "title": null, "values": [0,50,100,150,200,250,300,350,400]}},
      "y": {"field": "v", "type": "quantitative", "axis": {"orient": "right", "labels": false, "title": null, "values": [0, 0.5, 1]}}
     }}
   ],
   "resolve": {"axis": {"x": "independent", "y": "independent"}}
  },
  {"width": 314, "height": 105, "data": {"name": "bars"},
   "title": {"text": "(b)", "orient": "bottom"},
   "transform": [{"filter": "datum.p == 'b'"}, {"fold": ["No Acoustic", "With Acoustic"], "as": ["series", "v"]}],
   "layer": [
    {"mark": {"type": "bar", "binSpacing": 2},
     "encoding": {
      "x": {"field": "lo", "type": "quantitative", "bin": {"binned": true}, "scale": {"domain": [0, 400], "nice": false}, "axis": {"values": [0,50,100,150,200,250,300,350,400], "format": "d", "title": "Location Across Channel"}},
      "x2": {"field": "hi"},
      "y": {"field": "v", "type": "quantitative", "stack": null, "scale": {"domain": [0, 0.8], "nice": false}, "axis": {"values": [0, 0.2, 0.4, 0.6, 0.8], "format": "~g", "title": ["Normalized", "Particle Distribution"]}},
      "fill": {"field": "series", "type": "nominal", "scale": {"domain": ["No Acoustic", "With Acoustic"], "range": ["#00007f", "#ffffff"]}, "legend": {"title": null, "orient": "none", "legendX": 11, "legendY": 7, "symbolType": "M-2,-0.8H2V0.8H-2Z", "symbolSize": 100}},
      "stroke": {"field": "series", "type": "nominal", "scale": {"domain": ["No Acoustic", "With Acoustic"], "range": ["#00007f", "#ff0000"]}, "legend": {"title": null, "orient": "none", "legendX": 11, "legendY": 7, "symbolType": "M-2,-0.8H2V0.8H-2Z", "symbolSize": 100}},
      "strokeWidth": {"field": "series", "type": "ordinal", "scale": {"domain": ["No Acoustic", "With Acoustic"], "range": [1, 2]}, "legend": null}
     }},
    {"mark": {"type": "point", "opacity": 0},
     "encoding": {
      "x": {"field": "lo", "type": "quantitative", "axis": {"orient": "top", "labels": false, "title": null, "values": [0,50,100,150,200,250,300,350,400]}},
      "y": {"field": "v", "type": "quantitative", "axis": {"orient": "right", "labels": false, "title": null, "values": [0, 0.2, 0.4, 0.6, 0.8]}}
     }}
   ],
   "resolve": {"axis": {"x": "independent", "y": "independent"}}
  }
 ], "spacing": 40, "bounds": "flush",
 "resolve": {"scale": {"stroke": "independent", "strokeDash": "independent", "fill": "independent", "strokeWidth": "independent"}, "legend": {"stroke": "independent", "strokeDash": "independent", "fill": "independent"}}}
], "spacing": 16,
"resolve": {"scale": {"stroke": "independent", "strokeDash": "independent", "fill": "independent", "strokeWidth": "independent"}, "legend": {"stroke": "independent", "strokeDash": "independent", "fill": "independent"}}},
{"hconcat": [
 {"vconcat": [
  {"width": 305, "height": 100, "data": {"name": "lines"},
   "transform": [{"filter": "datum.p == 'c'"}, {"fold": ["No Acoustic", "With Acoustic"], "as": ["series", "v"]}],
   "layer": [
    {"mark": {"type": "line"},
     "encoding": {
      "x": {"field": "x", "type": "quantitative", "scale": {"domain": [0, 400], "nice": false}, "axis": {"values": [0,50,100,150,200,250,300,350,400], "format": "d", "title": null, "labelFontSize": 11}},
      "y": {"field": "v", "type": "quantitative", "scale": {"domain": [0, 1], "nice": false}, "axis": {"values": [0, 0.2, 0.4, 0.6, 0.8, 1], "format": "~g", "title": "Normalized Color Density", "labelFontSize": 11, "titleFontSize": 11}},
      "stroke": {"field": "series", "type": "nominal", "scale": {"domain": ["No Acoustic", "With Acoustic"], "range": ["#0000ff", "#ff0000"]}, "legend": {"title": null, "orient": "none", "legendX": 19, "legendY": 8, "symbolType": "M-2,0H2", "symbolSize": 100, "labelFontSize": 10}},
      "strokeDash": {"field": "series", "type": "nominal", "scale": {"domain": ["No Acoustic", "With Acoustic"], "range": [[1, 0], [4, 2]]}, "legend": {"title": null, "orient": "none", "legendX": 19, "legendY": 8, "symbolType": "M-2,0H2", "symbolSize": 100, "labelFontSize": 10}},
      "strokeWidth": {"field": "series", "type": "ordinal", "scale": {"domain": ["No Acoustic", "With Acoustic"], "range": [2, 1.5]}, "legend": null}
     }},
    {"mark": {"type": "line", "strokeOpacity": 0},
     "encoding": {
      "x": {"field": "x", "type": "quantitative", "axis": {"orient": "top", "labels": false, "title": null, "values": [0,50,100,150,200,250,300,350,400]}},
      "y": {"field": "v", "type": "quantitative", "axis": {"orient": "right", "labels": false, "title": null, "values": [0, 0.2, 0.4, 0.6, 0.8, 1]}}
     }}
   ],
   "resolve": {"axis": {"x": "independent", "y": "independent"}}
  },
  {"width": 305, "height": 98, "data": {"name": "bars"},
   "title": {"text": "(c)", "orient": "bottom", "offset": 9},
   "transform": [{"filter": "datum.p == 'c'"}, {"fold": ["No Acoustic", "With Acoustic"], "as": ["series", "v"]}],
   "layer": [
    {"mark": {"type": "bar", "binSpacing": 2},
     "encoding": {
      "x": {"field": "lo", "type": "quantitative", "bin": {"binned": true}, "scale": {"domain": [0, 400], "nice": false}, "axis": {"values": [0,50,100,150,200,250,300,350,400], "format": "d", "title": "Location Across Channel (um)", "labelFontSize": 11, "titleFontSize": 11}},
      "x2": {"field": "hi"},
      "y": {"field": "v", "type": "quantitative", "stack": null, "scale": {"domain": [0, 0.8], "nice": false}, "axis": {"values": [0, 0.2, 0.4, 0.6, 0.8], "format": "~g", "title": ["Normalized", "Particle Distribution"], "labelFontSize": 11, "titleFontSize": 11}},
      "fill": {"field": "series", "type": "nominal", "scale": {"domain": ["No Acoustic", "With Acoustic"], "range": ["#00007f", "#ffffff"]}, "legend": {"title": null, "orient": "none", "legendX": 17, "legendY": 7, "symbolType": "M-2,-0.8H2V0.8H-2Z", "symbolSize": 100}},
      "stroke": {"field": "series", "type": "nominal", "scale": {"domain": ["No Acoustic", "With Acoustic"], "range": ["#00007f", "#ff0000"]}, "legend": {"title": null, "orient": "none", "legendX": 17, "legendY": 7, "symbolType": "M-2,-0.8H2V0.8H-2Z", "symbolSize": 100}},
      "strokeWidth": {"field": "series", "type": "ordinal", "scale": {"domain": ["No Acoustic", "With Acoustic"], "range": [1, 2]}, "legend": null}
     }},
    {"mark": {"type": "point", "opacity": 0},
     "encoding": {
      "x": {"field": "lo", "type": "quantitative", "axis": {"orient": "top", "labels": false, "title": null, "values": [0,50,100,150,200,250,300,350,400]}},
      "y": {"field": "v", "type": "quantitative", "axis": {"orient": "right", "labels": false, "title": null, "values": [0, 0.2, 0.4, 0.6, 0.8]}}
     }}
   ],
   "resolve": {"axis": {"x": "independent", "y": "independent"}}
  }
 ], "spacing": 38, "bounds": "flush",
 "resolve": {"scale": {"stroke": "independent", "strokeDash": "independent", "fill": "independent", "strokeWidth": "independent"}, "legend": {"stroke": "independent", "strokeDash": "independent", "fill": "independent"}}},
 {"vconcat": [
  {"width": 296, "height": 100, "data": {"name": "lines"},
   "transform": [{"filter": "datum.p == 'd'"}, {"fold": ["No Acoustic", "With Acoustic"], "as": ["series", "v"]}],
   "layer": [
    {"mark": {"type": "line"},
     "encoding": {
      "x": {"field": "x", "type": "quantitative", "scale": {"domain": [0, 400], "nice": false}, "axis": {"values": [0,50,100,150,200,250,300,350,400], "format": "d", "title": null, "labelFontSize": 11}},
      "y": {"field": "v", "type": "quantitative", "scale": {"domain": [0, 1], "nice": false}, "axis": {"values": [0, 0.5, 1], "format": "~g", "title": ["Normalized", "Color Density"], "labelFontSize": 11, "titleFontSize": 11}},
      "stroke": {"field": "series", "type": "nominal", "scale": {"domain": ["No Acoustic", "With Acoustic"], "range": ["#0000ff", "#ff0000"]}, "legend": {"title": null, "orient": "none", "legendX": 19, "legendY": 8, "symbolType": "M-2,0H2", "symbolSize": 100}},
      "strokeDash": {"field": "series", "type": "nominal", "scale": {"domain": ["No Acoustic", "With Acoustic"], "range": [[1, 0], [4, 2]]}, "legend": {"title": null, "orient": "none", "legendX": 19, "legendY": 8, "symbolType": "M-2,0H2", "symbolSize": 100}},
      "strokeWidth": {"field": "series", "type": "ordinal", "scale": {"domain": ["No Acoustic", "With Acoustic"], "range": [2.5, 2]}, "legend": null}
     }},
    {"mark": {"type": "line", "strokeOpacity": 0},
     "encoding": {
      "x": {"field": "x", "type": "quantitative", "axis": {"orient": "top", "labels": false, "title": null, "values": [0,50,100,150,200,250,300,350,400]}},
      "y": {"field": "v", "type": "quantitative", "axis": {"orient": "right", "labels": false, "title": null, "values": [0, 0.5, 1]}}
     }}
   ],
   "resolve": {"axis": {"x": "independent", "y": "independent"}}
  },
  {"width": 296, "height": 98, "data": {"name": "bars"},
   "title": {"text": "(d)", "orient": "bottom", "offset": 9},
   "transform": [{"filter": "datum.p == 'd'"}, {"fold": ["No Acoustic", "With Acoustic"], "as": ["series", "v"]}],
   "layer": [
    {"mark": {"type": "bar", "binSpacing": 2},
     "encoding": {
      "x": {"field": "lo", "type": "quantitative", "bin": {"binned": true}, "scale": {"domain": [0, 400], "nice": false}, "axis": {"values": [0,50,100,150,200,250,300,350,400], "format": "d", "title": "Location Across Channel (um)", "labelFontSize": 11, "titleFontSize": 11}},
      "x2": {"field": "hi"},
      "y": {"field": "v", "type": "quantitative", "stack": null, "scale": {"domain": [0, 0.35], "nice": false}, "axis": {"values": [0, 0.1, 0.2, 0.3], "format": "~g", "title": ["Normalized", "Particle Distribution"], "labelFontSize": 11, "titleFontSize": 11}},
      "fill": {"field": "series", "type": "nominal", "scale": {"domain": ["No Acoustic", "With Acoustic"], "range": ["#00007f", "#ffffff"]}, "legend": {"title": null, "orient": "none", "legendX": 18, "legendY": 9, "symbolType": "M-2,-0.8H2V0.8H-2Z", "symbolSize": 100}},
      "stroke": {"field": "series", "type": "nominal", "scale": {"domain": ["No Acoustic", "With Acoustic"], "range": ["#00007f", "#ff0000"]}, "legend": {"title": null, "orient": "none", "legendX": 18, "legendY": 9, "symbolType": "M-2,-0.8H2V0.8H-2Z", "symbolSize": 100}},
      "strokeWidth": {"field": "series", "type": "ordinal", "scale": {"domain": ["No Acoustic", "With Acoustic"], "range": [1, 2]}, "legend": null}
     }},
    {"mark": {"type": "point", "opacity": 0},
     "encoding": {
      "x": {"field": "lo", "type": "quantitative", "axis": {"orient": "top", "labels": false, "title": null, "values": [0,50,100,150,200,250,300,350,400]}},
      "y": {"field": "v", "type": "quantitative", "axis": {"orient": "right", "labels": false, "title": null, "values": [0, 0.1, 0.2, 0.3]}}
     }}
   ],
   "resolve": {"axis": {"x": "independent", "y": "independent"}}
  }
 ], "spacing": 38, "bounds": "flush",
 "resolve": {"scale": {"stroke": "independent", "strokeDash": "independent", "fill": "independent", "strokeWidth": "independent"}, "legend": {"stroke": "independent", "strokeDash": "independent", "fill": "independent"}}}
], "spacing": 26,
"resolve": {"scale": {"stroke": "independent", "strokeDash": "independent", "fill": "independent", "strokeWidth": "independent"}, "legend": {"stroke": "independent", "strokeDash": "independent", "fill": "independent"}}}
],
"config": {
 "font": "Liberation Sans",
 "background": "white",
 "view": {"stroke": "#999999", "strokeWidth": 1},
 "axis": {"domain": false, "grid": false, "ticks": true, "tickSize": -3, "tickColor": "#999999", "tickWidth": 1, "labelFont": "Liberation Sans", "labelFontSize": 12, "labelColor": "black", "labelFlush": false, "labelOverlap": false, "titleFont": "Liberation Sans", "titleFontSize": 12, "titleFontWeight": "normal", "titleColor": "black", "titleLineHeight": 12},
 "axisX": {"labelPadding": 5, "titlePadding": 2},
 "axisY": {"labelPadding": 5, "titlePadding": 1},
 "legend": {"padding": 3, "strokeColor": "#999999", "fillColor": "white", "labelFont": "Liberation Sans", "labelFontSize": 11, "labelColor": "black", "symbolStrokeWidth": 2, "symbolOffset": 6, "labelOffset": 14, "rowPadding": 1, "labelLimit": 0},
 "title": {"font": "Liberation Serif", "fontSize": 15, "fontWeight": "normal", "color": "black", "offset": 6, "anchor": "middle"}
}
}
